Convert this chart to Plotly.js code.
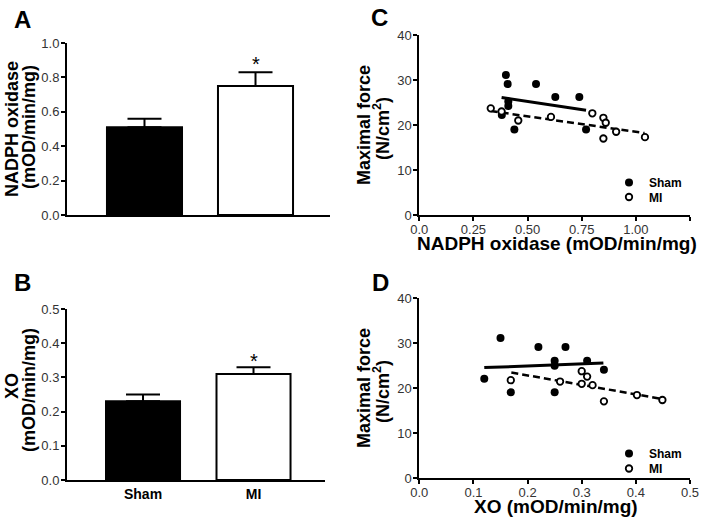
<!DOCTYPE html>
<html><head><meta charset="utf-8">
<script src="https://cdn.plot.ly/plotly-3.0.1.min.js"></script>
<style>html,body{margin:0;padding:0;background:#fff}#chart{width:702px;height:525px}</style>
</head><body><div id="chart"></div>
<script>
// ---- data ----
const groups = ['Sham', 'MI'];
const nadphMean = [0.51, 0.75];
const nadphSem = [0.05, 0.08];
const xoMean = [0.23, 0.31];
const xoSem = [0.02, 0.02];

// Panel C: maximal force vs NADPH oxidase
const shamNadph = [0.400, 0.408, 0.539, 0.628, 0.739, 0.411, 0.411, 0.381, 0.439, 0.770];
const shamForceC = [31.1, 29.1, 29.1, 26.2, 26.2, 25.2, 24.2, 22.2, 19.0, 19.0];
const miNadph = [0.330, 0.380, 0.457, 0.608, 0.799, 0.850, 0.861, 0.850, 0.909, 1.042];
const miForceC = [23.7, 23.0, 21.0, 21.8, 22.6, 21.6, 20.5, 17.0, 18.5, 17.3];
const shamFitCx = [0.38, 0.77];
const shamFitCy = [26.1, 23.3];
const miFitCx = [0.33, 1.04];
const miFitCy = [23.1, 18.2];

// Panel D: maximal force vs XO
const shamXo = [0.120, 0.150, 0.169, 0.220, 0.270, 0.250, 0.250, 0.310, 0.250, 0.341];
const shamForceD = [22.1, 31.2, 19.1, 29.2, 29.2, 26.1, 25.0, 26.1, 19.1, 24.1];
const miXo = [0.169, 0.260, 0.300, 0.310, 0.300, 0.320, 0.341, 0.402, 0.449];
const miForceD = [21.8, 21.5, 23.8, 22.6, 21.0, 20.7, 17.1, 18.5, 17.4];
const shamFitDx = [0.12, 0.34];
const shamFitDy = [24.6, 25.6];
const miFitDx = [0.17, 0.45];
const miFitDy = [23.5, 17.6];

// tick labels
const cTickVals = [0, 0.25, 0.5, 0.75, 1.0, 1.25];
const cTickText = ['0.0', '0.25', '0.50', '0.75', '1.00', '1.25'];

// ---- layout helpers ----
const W = 702, H = 525;
const FX = v => v / W;
const FY = v => 1 - v / H;
const FONT = 'Liberation Sans, Arial, Helvetica, sans-serif';
const tickFont = {family: FONT, size: 13, color: '#333'};

function axisBase(extra) {
  return Object.assign({
    showline: true, linecolor: '#000', linewidth: 2,
    ticks: 'outside', ticklen: 4, tickwidth: 2, tickcolor: '#000',
    showgrid: false, zeroline: false, tickfont: tickFont, fixedrange: true
  }, extra);
}
const yAx = extra => axisBase(Object.assign({ticklabelstandoff: -1}, extra));
const xAx = extra => axisBase(Object.assign({ticklabelstandoff: -3}, extra));

const errStyle = {type: 'data', symmetric: false, color: '#000', thickness: 2, width: 17, arrayminus: [0, 0]};
const shamMarker = {symbol: 'circle', size: 8, color: '#000'};
const miMarker = {symbol: 'circle', size: 6.5, color: '#fff', line: {color: '#000', width: 1.8}};

const traces = [
  {type: 'bar', x: groups, y: nadphMean, xaxis: 'x', yaxis: 'y', width: 0.676,
   marker: {color: ['#000', '#fff'], line: {color: '#000', width: 2}},
   error_y: Object.assign({}, errStyle, {array: nadphSem}), showlegend: false, hoverinfo: 'none'},
  {type: 'bar', x: groups, y: xoMean, xaxis: 'x2', yaxis: 'y2', width: 0.67,
   marker: {color: ['#000', '#fff'], line: {color: '#000', width: 2}},
   error_y: Object.assign({}, errStyle, {array: xoSem}), showlegend: false, hoverinfo: 'none'},
  // C fits
  {type: 'scatter', mode: 'lines', x: shamFitCx, y: shamFitCy, xaxis: 'x3', yaxis: 'y3',
   line: {color: '#000', width: 3}, showlegend: false, hoverinfo: 'none'},
  {type: 'scatter', mode: 'lines', x: miFitCx, y: miFitCy, xaxis: 'x3', yaxis: 'y3',
   line: {color: '#000', width: 2.5, dash: '7px,4px'}, showlegend: false, hoverinfo: 'none'},
  {type: 'scatter', mode: 'markers', name: 'Sham', x: shamNadph, y: shamForceC, xaxis: 'x3', yaxis: 'y3',
   marker: shamMarker, legend: 'legend', hoverinfo: 'none'},
  {type: 'scatter', mode: 'markers', name: 'MI', x: miNadph, y: miForceC, xaxis: 'x3', yaxis: 'y3',
   marker: miMarker, legend: 'legend2', hoverinfo: 'none'},
  // D fits
  {type: 'scatter', mode: 'lines', x: shamFitDx, y: shamFitDy, xaxis: 'x4', yaxis: 'y4',
   line: {color: '#000', width: 3}, showlegend: false, hoverinfo: 'none'},
  {type: 'scatter', mode: 'lines', x: miFitDx, y: miFitDy, xaxis: 'x4', yaxis: 'y4',
   line: {color: '#000', width: 2.5, dash: '7px,4px'}, showlegend: false, hoverinfo: 'none'},
  {type: 'scatter', mode: 'markers', name: 'Sham', x: shamXo, y: shamForceD, xaxis: 'x4', yaxis: 'y4',
   marker: shamMarker, legend: 'legend3', hoverinfo: 'none'},
  {type: 'scatter', mode: 'markers', name: 'MI', x: miXo, y: miForceD, xaxis: 'x4', yaxis: 'y4',
   marker: miMarker, legend: 'legend4', hoverinfo: 'none'}
];

function ann(text, x, y, size, opts) {
  return Object.assign({
    text: text, xref: 'paper', yref: 'paper', x: FX(x), y: FY(y),
    xanchor: 'center', yanchor: 'middle', showarrow: false,
    font: {family: FONT, size: size, color: '#000', weight: 'bold'}
  }, opts || {});
}

const annotations = [
  ann('A', 22, 19, 24), ann('B', 22, 282, 24), ann('C', 379, 18, 24), ann('D', 381, 282, 24),
  ann('NADPH oxidase', 12, 129, 18, {textangle: -90}),
  ann('(mOD/min/mg)', 29, 127, 18, {textangle: -90}),
  ann('XO', 12, 386, 18, {textangle: -90}),
  ann('(mOD/min/mg)', 29, 390, 18, {textangle: -90}),
  ann('Maximal force', 364, 125, 18, {textangle: -90}),
  ann('(N/cm<sup>2</sup>)', 381, 128, 18, {textangle: -90}),
  ann('Maximal force', 364, 388, 18, {textangle: -90}),
  ann('(N/cm<sup>2</sup>)', 381, 391, 18, {textangle: -90}),
  ann('NADPH oxidase (mOD/min/mg)', 557, 243, 19),
  ann('XO (mOD/min/mg)', 556, 506, 19),
  ann('*', 255.5, 64, 20, {font: {family: FONT, size: 20, color: '#000'}}),
  ann('*', 253.5, 361, 20, {font: {family: FONT, size: 20, color: '#000'}})
];

function leg(x, y) {
  return {x: FX(x), y: FY(y), xanchor: 'left', yanchor: 'middle', bgcolor: 'rgba(0,0,0,0)',
    indentation: -12, font: {family: FONT, size: 12, color: '#000', weight: 'bold'}, tracegroupgap: 0};
}

const layout = {
  width: W, height: H, margin: {l: 0, r: 0, t: 0, b: 0},
  paper_bgcolor: '#fff', plot_bgcolor: '#fff', showlegend: true,
  font: {family: FONT, color: '#000'},
  xaxis: axisBase({domain: [FX(67), FX(330)], anchor: 'y', type: 'category', range: [-0.698, 1.671],
    ticks: '', showticklabels: false}),
  yaxis: yAx({domain: [FY(215), FY(43)], anchor: 'x', range: [0, 1], dtick: 0.2, tick0: 0, tickformat: '.1f'}),
  xaxis2: axisBase({domain: [FX(67), FX(325)], anchor: 'y2', type: 'category', range: [-0.688, 1.647],
    ticks: '', tickfont: {family: FONT, size: 14, color: '#000', weight: 'bold'}}),
  yaxis2: yAx({domain: [FY(480), FY(309)], anchor: 'x2', range: [0, 0.5], dtick: 0.1, tick0: 0, tickformat: '.1f'}),
  xaxis3: xAx({domain: [FX(419.3), FX(690)], anchor: 'y3', range: [0, 1.25], tickvals: cTickVals, ticktext: cTickText}),
  yaxis3: yAx({domain: [FY(215), FY(35)], anchor: 'x3', range: [0, 40], dtick: 10, tick0: 0}),
  xaxis4: xAx({domain: [FX(419.3), FX(690)], anchor: 'y4', range: [0, 0.5], dtick: 0.1, tick0: 0, tickformat: '.1f'}),
  yaxis4: yAx({domain: [FY(478.3), FY(298.3)], anchor: 'x4', range: [0, 40], dtick: 10, tick0: 0}),
  legend: leg(621, 182.5),
  legend2: leg(621, 197),
  legend3: leg(621, 453.5),
  legend4: leg(621, 468.5),
  annotations: annotations
};

Plotly.newPlot('chart', traces, layout, {displayModeBar: false, staticPlot: true});
</script></body></html>
